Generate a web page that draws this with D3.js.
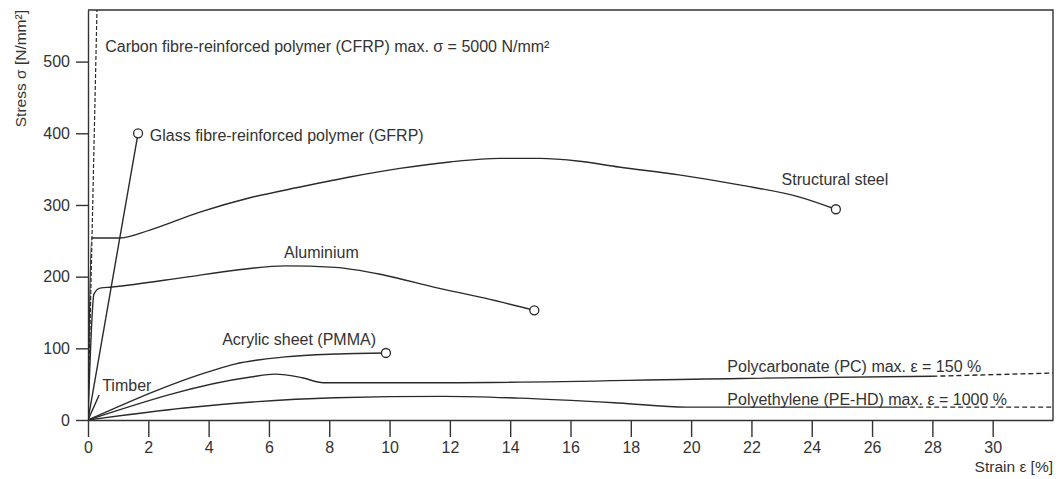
<!DOCTYPE html>
<html>
<head>
<meta charset="utf-8">
<script src="https://cdn.jsdelivr.net/npm/d3@7"></script>
<style>
  body { margin: 0; background: #fff; }
  text { font-family: "Liberation Sans", Arial, Helvetica, sans-serif; fill: #333; }
</style>
</head>
<body>
<div id="chart"></div>
<script>
// Data (strain in %, stress in N/mm²)
let xTicks = [0, 2, 4, 6, 8, 10, 12, 14, 16, 18, 20, 22, 24, 26, 28, 30];
let yTicks = [0, 100, 200, 300, 400, 500];

let cfrp = [[0, 0], [2.6, 5000]];
let gfrp = [[0, 0], [1.66, 400]];
let timber = [[0, 0], [0.37, 35]];
let steel = [[0, 0], [0.12, 254], [1.06, 254], [2.05, 265], [3.71, 290], [5.37, 310], [7.03, 325],
  [8.68, 339], [10.34, 351], [12.0, 360], [13.66, 365], [14.98, 365], [16.3, 361], [17.6, 353],
  [19.6, 342], [21.6, 328], [23.6, 311], [24.8, 294]];
let aluminium = [[0, 0], [0.2, 176], [0.4, 184], [0.8, 185.5], [3.2, 199], [4.87, 209], [6.53, 215],
  [8.19, 213], [9.84, 202], [11.5, 185], [13.16, 170], [14.8, 153]];
let pmma = [[0, 0], [4.2, 70], [4.87, 78], [6.53, 88], [8.19, 92], [9.88, 93.5]];
let pc = [[0, 0], [5.4, 60], [6.2, 64], [7.1, 59], [7.8, 52], [11.8, 52], [21.6, 58], [28, 61]];
let pcDash = [[28, 61], [32, 65.5]];
let pe = [[0, 0], [3.2, 16.7], [8.19, 31], [11.8, 33], [14.3, 30.5], [17.6, 23.7], [19.85, 18], [27, 18]];
let peDash = [[27, 18], [32, 18]];

// end markers
let breaks = [gfrp[1], steel[steel.length - 1], aluminium[aluminium.length - 1], pmma[pmma.length - 1]];

// labels: [text, strain, stress]
let labels = [
  ["Carbon fibre-reinforced polymer (CFRP) max. σ = 5000 N/mm²", 0.57, 513],
  ["Glass fibre-reinforced polymer (GFRP)", 2.05, 389],
  ["Structural steel", 23.0, 328],
  ["Aluminium", 6.5, 226],
  ["Acrylic sheet (PMMA)", 4.45, 105],
  ["Timber", 0.47, 40],
  ["Polycarbonate (PC) max. ε = 150 %", 21.2, 67],
  ["Polyethylene (PE-HD) max. ε = 1000 %", 21.2, 21]
];

let W = 1059, H = 479;
let m = {left: 88, top: 10, right: 6, bottom: 59};

let svg = d3.select("#chart").append("svg")
  .attr("width", W)
  .attr("height", H);

let x = d3.scaleLinear().domain([0, 32]).range([m.left, W - m.right]);
let y = d3.scaleLinear().domain([0, 572]).range([H - m.bottom, m.top]);

svg.append("clipPath").attr("id", "clip")
  .append("rect")
  .attr("x", x(0)).attr("y", y(572))
  .attr("width", x(32) - x(0)).attr("height", y(0) - y(572));

// frame (top + right)
svg.append("path")
  .attr("d", "M" + x(0) + "," + y(572) + "H" + x(32) + "V" + y(0))
  .attr("fill", "none")
  .attr("stroke", "#333")
  .attr("stroke-width", 1.4);

// axes
let xAxis = svg.append("g")
  .attr("transform", "translate(0," + y(0) + ")")
  .call(d3.axisBottom(x).tickValues(xTicks).tickSize(17).tickSizeOuter(0).tickPadding(5));
let yAxis = svg.append("g")
  .attr("transform", "translate(" + x(0) + ",0)")
  .call(d3.axisLeft(y).tickValues(yTicks).tickSize(12).tickSizeOuter(0).tickPadding(6));

[xAxis, yAxis].forEach(function (a) {
  a.select(".domain").attr("stroke", "#333").attr("stroke-width", 1.4);
  a.selectAll(".tick line").attr("stroke", "#333").attr("stroke-width", 1.4);
  a.selectAll(".tick text").style("font-size", "16px").attr("fill", "#333")
    .style("font-family", "'Liberation Sans', Arial, sans-serif");
});

svg.append("text")
  .attr("x", x(32)).attr("y", 472)
  .attr("text-anchor", "end")
  .style("font-size", "15.5px")
  .text("Strain ε [%]");

svg.append("text")
  .attr("transform", "translate(26," + y(572) + ") rotate(-90)")
  .attr("text-anchor", "end")
  .style("font-size", "15.5px")
  .text("Stress σ [N/mm²]");

// curves
let line = d3.line()
  .x(function (d) { return x(d[0]); })
  .y(function (d) { return y(d[1]); })
  .curve(d3.curveMonotoneX);

let plot = svg.append("g").attr("clip-path", "url(#clip)");

let solid = [gfrp, timber, steel, aluminium, pmma, pc, pe];
plot.selectAll("path.solid")
  .data(solid)
  .enter()
  .append("path")
  .attr("class", "solid")
  .attr("d", line)
  .attr("fill", "none")
  .attr("stroke", "#2a2a2a")
  .attr("stroke-width", 1.4);

plot.selectAll("path.dash")
  .data([pcDash, peDash])
  .enter()
  .append("path")
  .attr("class", "dash")
  .attr("d", line)
  .attr("fill", "none")
  .attr("stroke", "#2a2a2a")
  .attr("stroke-width", 1.4)
  .attr("stroke-dasharray", "5,3");

plot.append("path")
  .datum(cfrp)
  .attr("d", d3.line().x(function (d) { return x(d[0]); }).y(function (d) { return y(d[1]); }))
  .attr("fill", "none")
  .attr("stroke", "#2a2a2a")
  .attr("stroke-width", 1.2)
  .attr("stroke-dasharray", "4,2");

svg.selectAll("circle")
  .data(breaks)
  .enter()
  .append("circle")
  .attr("cx", function (d) { return x(d[0]); })
  .attr("cy", function (d) { return y(d[1]); })
  .attr("r", 4.5)
  .attr("fill", "#fff")
  .attr("stroke", "#2a2a2a")
  .attr("stroke-width", 1.3);

svg.selectAll("text.lab")
  .data(labels)
  .enter()
  .append("text")
  .attr("class", "lab")
  .attr("x", function (d) { return x(d[1]); })
  .attr("y", function (d) { return y(d[2]); })
  .style("font-size", "16px")
  .text(function (d) { return d[0]; });
</script>
</body>
</html>
